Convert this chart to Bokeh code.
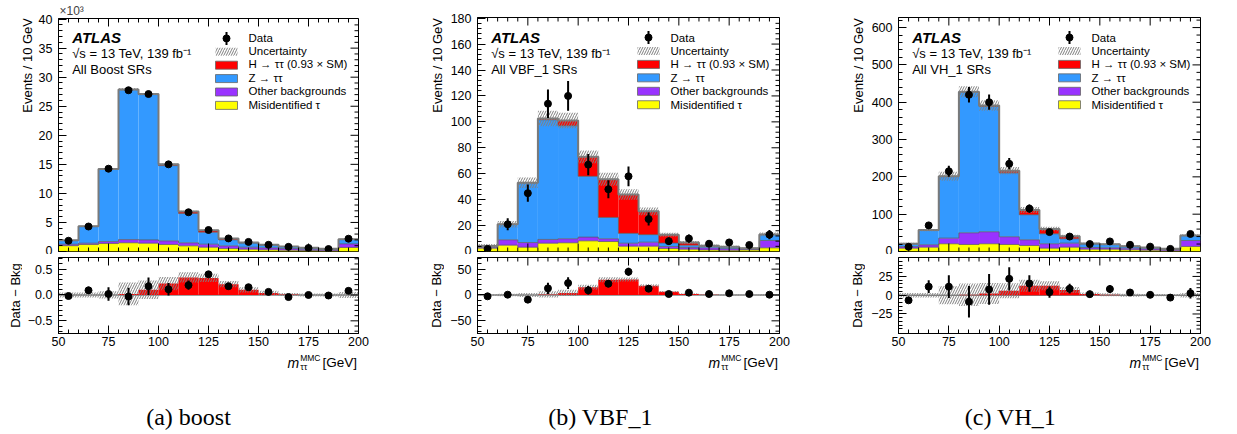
import numpy as np
from bokeh.plotting import figure
from bokeh.models import (ColumnDataSource, Range1d, Label, Span, Title, FixedTicker,
                          SingleIntervalTicker, CustomJSTickFormatter)
from bokeh.layouts import row, column
from bokeh.embed import file_html
from bokeh.resources import INLINE

# ---------------- data ----------------
bin_edges = [50, 60, 70, 80, 90, 100, 110, 120, 130, 140, 150, 160, 170, 180, 190, 200]

# boost (x10^3 events)
boost_fake = [1.0, 1.2, 1.37, 1.5, 1.43, 1.2, 0.97, 0.74, 0.51, 0.4, 0.29, 0.23, 0.17, 0.11, 0.69]
boost_other = [0.25, 0.23, 0.33, 0.55, 0.57, 0.63, 0.52, 0.52, 0.46, 0.34, 0.34, 0.28, 0.23, 0.18, 0.62]
boost_ztt = [0.67, 2.92, 12.5, 25.83, 25.0, 12.95, 5.07, 2.07, 1.04, 0.71, 0.48, 0.34, 0.23, 0.17, 0.79]
boost_higgs = [0, 0, 0, 0.02, 0.1, 0.22, 0.34, 0.33, 0.21, 0.1, 0.04, 0.01, 0, 0, 0]
boost_unc = [0.05, 0.05, 0.07, 0.22, 0.18, 0.13, 0.1, 0.08, 0.06, 0.05, 0.04, 0.03, 0.03, 0.03, 0.06]
boost_data = [1.85, 4.3, 14.25, 27.75, 27.1, 15.0, 6.75, 3.7, 2.25, 1.65, 1.15, 0.8, 0.6, 0.42, 2.2]
boost_data_err = [0.04, 0.07, 0.13, 0.17, 0.17, 0.12, 0.09, 0.06, 0.05, 0.04, 0.03, 0.03, 0.02, 0.02, 0.05]
boost_diff = [-0.02, 0.09, 0.02, -0.03, 0.17, 0.11, 0.19, 0.4, 0.17, 0.15, 0.06, -0.04, 0.0, -0.01, 0.08]

# VBF_1
vbf_fake = [2.6, 4.9, 3.3, 6.4, 6.7, 8.2, 7.7, 4.1, 4.1, 2.3, 1.8, 1.2, 0.9, 1.2, 2.8]
vbf_other = [0.7, 4.1, 3.6, 2.9, 3.1, 2.9, 2.1, 2.3, 3.1, 1.6, 1.4, 1.6, 1.3, 0.6, 5.7]
vbf_ztt = [0.9, 12.0, 46.1, 92.3, 87.2, 46.9, 16.5, 7.6, 5.8, 2.6, 1.7, 1.3, 1.4, 0.7, 4.7]
vbf_higgs = [0, 0, 0, 1.0, 4.0, 15.0, 29.5, 30.0, 18.0, 6.4, 2.0, 0.3, 0, 0, 0]
vbf_unc = [1.5, 2.5, 4, 6, 6, 5, 5, 4, 3, 1.5, 1.2, 1, 0.8, 0.6, 1.5]
vbf_data = [2, 21, 45, 114, 120, 67, 48, 58, 25, 8, 10, 6, 7, 5, 13]
vbf_data_err = [1.5, 4.6, 6.7, 11.0, 11.5, 8.2, 6.9, 7.6, 5.0, 2.8, 3.2, 2.4, 2.6, 2.2, 3.6]
vbf_diff = [-2.6, 0.6, -9, 12.8, 23, 9, 21.8, 44.9, 12.2, 1.9, 4.5, 1.9, 3.2, 1.9, 0.6]

# VH_1
vh_fake = [9, 11.6, 20.6, 18.8, 20.6, 18.8, 16, 9, 11.6, 6.3, 6.3, 4.5, 3.6, 1.8, 13.4]
vh_other = [4, 6.3, 15.2, 31.2, 32.2, 20.6, 15.3, 11.6, 10.8, 4.4, 3.6, 4.5, 3.6, 3.6, 16.1]
vh_ztt = [7.6, 39.4, 165.7, 377.5, 335.9, 171.3, 67.2, 26.9, 11.6, 9.3, 9.3, 5.3, 3.5, 1.8, 13.5]
vh_higgs = [0, 0, 0, 0.5, 2.3, 6, 12.5, 12.5, 7, 1.5, 0.5, 0, 0, 0, 0]
vh_unc = [3, 3, 12, 15, 14, 10, 8, 6, 4, 2, 2, 2, 1.5, 1.5, 3]
vh_data = [12.5, 70, 215, 420, 400, 235, 115, 52, 40, 20, 27, 18, 13, 7, 47]
vh_data_err = [3, 8.4, 15, 21, 20.5, 15.5, 11, 7.5, 6.5, 4.5, 5.2, 4.3, 3.6, 2.7, 7]
vh_diff = [-6.8, 11.4, 11.4, -8.6, 7.7, 21.8, 15.5, 4.1, 8.6, 1.4, 8.2, 3.6, 0.5, -3.2, 2.7]

legend_labels = ["Data", "Uncertainty", "H \u2192 \u03c4\u03c4 (0.93 \u00d7 SM)", "Z \u2192 \u03c4\u03c4",
                 "Other backgrounds", "Misidentified \u03c4"]

# ---------------- style / layout constants ----------------
FONT = "Liberation Sans"
C_FAKE, C_OTHER, C_Z, C_H = "#ffff00", "#9933ff", "#3399ff", "#ff0000"
HATCH = dict(hatch_pattern="/", hatch_color="#808080", hatch_scale=5, hatch_weight=1, hatch_alpha=1.0)

UP_H, UP_BT, UP_BB = 254, 17, 3
LO_H, LO_BT, LO_BB = 97, 3, 18
TXT_H = 82
UP_FH = UP_H - UP_BT - UP_BB
LO_FH = LO_H - LO_BT - LO_BB
TXT_TOP = UP_H + LO_H          # page y where the text strip starts


def fmt(dec):
    return CustomJSTickFormatter(
        code="return (tick < 0 ? '\\u2212' : '') + Math.abs(tick).toFixed(%d);" % dec)


def style_axis(ax, dec, standoff):
    ax.major_tick_in = 8
    ax.major_tick_out = 0
    ax.minor_tick_in = 4
    ax.minor_tick_out = 0
    ax.axis_line_color = "black"
    ax.major_tick_line_color = "black"
    ax.minor_tick_line_color = "black"
    ax.axis_label = None
    ax.major_label_text_font = FONT
    ax.major_label_text_font_size = "12.5px"
    ax.major_label_text_color = "black"
    ax.major_label_standoff = standoff
    ax.formatter = fmt(dec)


def blank(w, h, bt=0, bb=0):
    p = figure(width=w, height=h, x_range=Range1d(0, 1), y_range=Range1d(0, 1), title=None,
               x_axis_location=None, y_axis_location=None,
               min_border_left=0, min_border_right=0, min_border_top=bt, min_border_bottom=bb,
               output_backend="svg", toolbar_location=None)
    p.grid.visible = False
    p.outline_line_color = None
    p.background_fill_color = "white"
    p.border_fill_color = "white"
    return p


def mkfig(w, h, bl, br, bt, bb, yr, xaxis):
    p = figure(width=w, height=h, x_range=Range1d(50, 200), y_range=Range1d(*yr),
               x_axis_location="below" if xaxis else None,
               min_border_left=bl, min_border_right=br, min_border_top=bt, min_border_bottom=bb,
               output_backend="svg", toolbar_location=None)
    p.grid.visible = False
    p.outline_line_color = "black"
    p.outline_line_width = 1
    p.outline_line_alpha = 1
    p.background_fill_color = "white"
    p.border_fill_color = "white"
    return p


def y_ticks(y0, y1, yint):
    span = y1 - y0
    maj = [v for v in np.arange(np.ceil(y0 / yint) * yint, y1 + 1e-9, yint)
           if v - y0 > 0.02 * span and y1 - v > 0.02 * span]
    step = yint / 5.0
    mnr = [v for v in np.arange(np.ceil(y0 / step) * step, y1 + 1e-9, step)
           if abs(v / yint - round(v / yint)) > 1e-6]
    return np.array(maj), np.array(mnr)


def tick_marks(p, y0, y1, yint, bottom):
    # mirrored (tick-only) edges drawn as dash markers centred on the frame edge
    xmaj = np.arange(50, 200.01, 25)
    xmin = np.array([v for v in np.arange(50, 200.01, 5) if v % 25 != 0])
    ymaj, ymin = y_ticks(y0, y1, yint)
    edges = [y1] + ([y0] if bottom else [])
    for ye in edges:
        p.scatter(x=xmaj, y=[ye] * len(xmaj), marker="dash", angle=np.pi / 2, size=16,
                  line_color="black", line_width=1)
        p.scatter(x=xmin, y=[ye] * len(xmin), marker="dash", angle=np.pi / 2, size=8,
                  line_color="black", line_width=1)
    p.scatter(x=[200] * len(ymaj), y=ymaj, marker="dash", size=16, line_color="black", line_width=1)
    p.scatter(x=[200] * len(ymin), y=ymin, marker="dash", size=8, line_color="black", line_width=1)


def txt(p, x, y, text, size="13px", style="normal", align="left", baseline="middle",
        angle=0.0, font=FONT):
    p.add_layout(Label(x=x, y=y, x_units="screen", y_units="screen", text=text,
                       text_font=font, text_font_size=size, text_font_style=style,
                       text_align=align, text_baseline=baseline, angle=angle,
                       text_color="black"))


def make_panel(fake, other, ztt, higgs, unc, data, derr, diff, ymax, yint, lo_range, lo_int,
               lo_dec, colw, fl, fw, region, caption, cap_x, yl_up_w, yl_up_x, yl_lo_w, yl_lo_x,
               leg_dx, scale_label=False):
    br = colw - fl - fw
    edges = np.array(bin_edges, dtype=float)
    centers = (edges[:-1] + edges[1:]) / 2
    fake, other, ztt, higgs = map(np.array, (fake, other, ztt, higgs))
    unc, data, derr, diff = map(np.array, (unc, data, derr, diff))
    c1 = fake
    c2 = c1 + other
    c3 = c2 + ztt
    c4 = c3 + higgs
    src = ColumnDataSource(dict(left=edges[:-1], right=edges[1:], c0=np.zeros_like(c1),
                                c1=c1, c2=c2, c3=c3, c4=c4, ulo=c4 - unc, uhi=c4 + unc,
                                x=centers, d=data, dlo=data - derr, dhi=data + derr,
                                h=higgs, hlo=higgs - unc, hhi=higgs + unc,
                                df=diff, dflo=diff - derr, dfhi=diff + derr))

    # -------- upper --------
    up = mkfig(colw - yl_up_w, UP_H, fl - yl_up_w, br, UP_BT, UP_BB, (0, ymax), False)
    up.yaxis[0].ticker = SingleIntervalTicker(interval=yint, num_minor_ticks=5)
    style_axis(up.yaxis[0], 0, 6)
    up.quad(left="left", right="right", bottom="c0", top="c1", source=src,
            fill_color=C_FAKE, line_color=None)
    up.quad(left="left", right="right", bottom="c1", top="c2", source=src,
            fill_color=C_OTHER, line_color=None)
    up.quad(left="left", right="right", bottom="c2", top="c3", source=src,
            fill_color=C_Z, line_color=None)
    up.quad(left="left", right="right", bottom="c3", top="c4", source=src,
            fill_color=C_H, line_color=None)
    for c in (c1, c2, c3):
        up.step(x=edges, y=np.append(c, c[-1]), mode="after", line_color="#555555",
                line_width=1, line_alpha=0.7)
    up.step(x=edges, y=np.append(c4, c4[-1]), mode="after", line_color="#7a7a7a", line_width=2)
    up.quad(left="left", right="right", bottom="ulo", top="uhi", source=src,
            fill_color=None, line_color=None, **HATCH)
    up.segment(x0="x", y0="dlo", x1="x", y1="dhi", source=src, line_color="black", line_width=2)
    up.scatter(x="x", y="d", source=src, size=7, color="black")
    tick_marks(up, 0, ymax, yint, True)

    # legend (swatches in data coordinates derived from layout pixels)
    def dx(px):
        return 50 + px * 150.0 / fw

    def dy(py_from_top):
        return ymax - py_from_top * ymax / UP_FH

    rows = [20 + 13.45 * i for i in range(6)]
    sx = dx(leg_dx + 11)
    up.scatter(x=[sx], y=[dy(rows[0])], size=7, color="black")
    up.rect(x=[sx], y=[dy(rows[0])], width=2, height=13, width_units="screen",
            height_units="screen", fill_color="black", line_color=None)
    up.rect(x=[sx], y=[dy(rows[1])], width=22, height=8, width_units="screen",
            height_units="screen", fill_color=None, line_color=None, **HATCH)
    for i, col in zip(range(2, 6), (C_H, C_Z, C_OTHER, C_FAKE)):
        up.rect(x=[sx], y=[dy(rows[i])], width=22, height=8, width_units="screen",
                height_units="screen", fill_color=col, line_color="#666666", line_width=0.8)
    for i, lab in enumerate(legend_labels):
        txt(up, leg_dx + 33, UP_FH - rows[i], lab, size="11.5px")

    txt(up, 13.7, UP_FH - 20, "ATLAS", size="15px", style="bold italic")
    txt(up, 13.7, UP_FH - 35.5, "\u221as = 13 TeV, 139 fb\u207b\u00b9", size="13px")
    txt(up, 13.7, UP_FH - 52, region, size="13px")
    if scale_label:
        up.add_layout(Title(text="\u00d710\u00b3", align="left", offset=1, standoff=2,
                            text_font=FONT, text_font_size="12px", text_font_style="normal"),
                      "above")

    ylu = blank(yl_up_w, UP_H, UP_BT, UP_BB)
    txt(ylu, yl_up_x, UP_FH - 0.5, "Events / 10 GeV", size="13px", align="right",
        angle=np.pi / 2)

    # -------- lower --------
    lo = mkfig(colw - yl_lo_w, LO_H, fl - yl_lo_w, br, LO_BT, LO_BB, lo_range, True)
    lo.xaxis[0].ticker = SingleIntervalTicker(interval=25, num_minor_ticks=5)
    lmaj, lmin = y_ticks(lo_range[0], lo_range[1], lo_int)
    lo.yaxis[0].ticker = FixedTicker(ticks=list(lmaj), minor_ticks=list(lmin))
    style_axis(lo.xaxis[0], 0, 3)
    style_axis(lo.yaxis[0], lo_dec, 6)
    lo.add_layout(Span(location=0, dimension="width", line_color="#808080", line_width=1.5,
                       level="underlay"))
    lo.quad(left="left", right="right", bottom="c0", top="h", source=src,
            fill_color=C_H, line_color=None)
    lo.quad(left="left", right="right", bottom="hlo", top="hhi", source=src,
            fill_color=None, line_color=None, **HATCH)
    lo.segment(x0="x", y0="dflo", x1="x", y1="dfhi", source=src, line_color="black", line_width=2)
    lo.scatter(x="x", y="df", source=src, size=7, color="black")
    tick_marks(lo, lo_range[0], lo_range[1], lo_int, False)

    yll = blank(yl_lo_w, LO_H, LO_BT, LO_BB)
    txt(yll, yl_lo_x, LO_FH / 2, "Data \u2212 Bkg", size="13px", align="center",
        angle=np.pi / 2)

    # -------- text strip: x title + caption (y measured from strip bottom) --------
    tx = blank(colw, TXT_H)
    fr = fl + fw

    def ty(page_y):
        return TXT_H - (page_y - TXT_TOP)

    txt(tx, fr - 1.6, ty(362.0), "[GeV]", size="13.5px", align="right")
    txt(tx, fr - 58.3, ty(357.5), "MMC", size="8.5px")
    txt(tx, fr - 58.3, ty(366.0), "\u03c4\u03c4", size="9px")
    txt(tx, fr - 59.3, ty(362.0), "m", size="14px", style="italic", align="right")
    txt(tx, cap_x, ty(416.0), caption, size="24px", align="center", font="Liberation Serif")

    return column(row(ylu, up), row(yll, lo), tx)


p1 = make_panel(boost_fake, boost_other, boost_ztt, boost_higgs, boost_unc, boost_data,
                boost_data_err, boost_diff, 40.1, 5, (-0.745, 0.725), 0.5, 1,
                418, 58, 300, "All Boost SRs", "(a) boost", 188, 34, 27, 22, 15, 157,
                scale_label=True)
p2 = make_panel(vbf_fake, vbf_other, vbf_ztt, vbf_higgs, vbf_unc, vbf_data, vbf_data_err,
                vbf_diff, 180.5, 20, (-74.5, 72.5), 50, 0,
                420, 59, 302, "All VBF_1 SRs", "(b) VBF_1", 182, 26, 19, 26, 18, 160)
p3 = make_panel(vh_fake, vh_other, vh_ztt, vh_higgs, vh_unc, vh_data, vh_data_err, vh_diff,
                627, 100, (-51.0, 50.2), 25, 0,
                397, 60, 302, "All VH_1 SRs", "(c) VH_1", 172, 27, 20, 27, 19, 160)

layout = row(p1, p2, p3)
open("out.html", "w").write(file_html(layout, INLINE))
